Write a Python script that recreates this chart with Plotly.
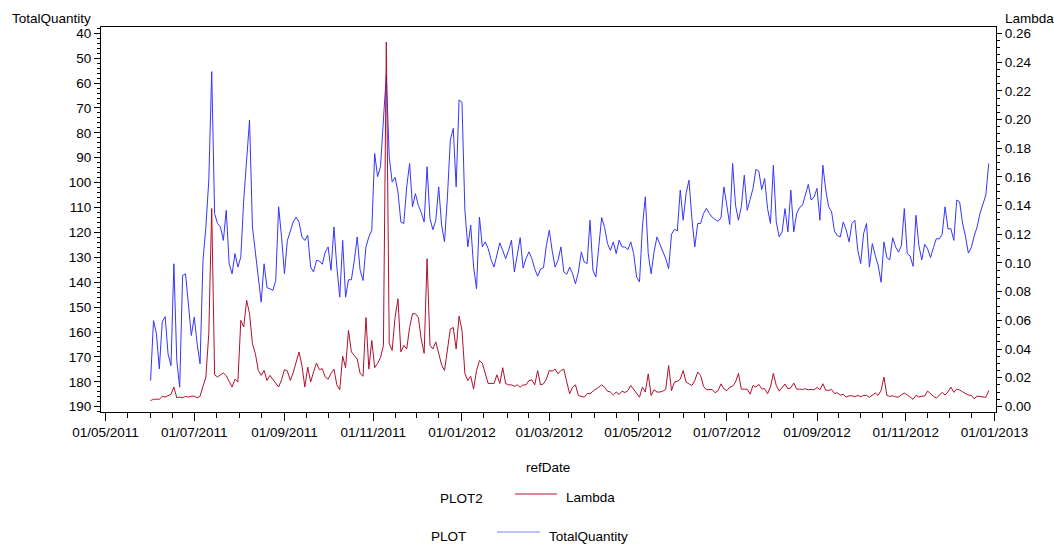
import pandas as pd
import plotly.graph_objects as go

# Daily-sampled series (every second day from 1 June 2011)
total_quantity = [
    179.5, 155.4, 160.7, 174.8, 156.0, 153.8, 168.8, 173.5, 132.6, 171.5,
    182.2, 137.3, 136.6, 148.7, 161.4, 154.0, 164.8, 172.8, 131.2, 117.8,
    99.0, 55.4, 112.4, 116.4, 117.8, 123.2, 111.1, 132.6, 136.6, 128.5,
    133.9, 129.9, 107.0, 90.9, 74.8, 117.8, 128.5, 138.6, 148.0, 132.6,
    142.2, 142.6, 143.3, 139.3, 109.7, 121.8, 136.6, 123.2, 119.1, 115.8,
    113.8, 115.8, 121.8, 123.2, 121.1, 133.9, 135.9, 131.2, 131.5, 132.8,
    127.9, 125.8, 135.2, 117.8, 133.9, 146.0, 123.2, 146.0, 139.0, 139.0,
    131.2, 121.8, 135.2, 139.3, 125.8, 121.8, 119.1, 88.3, 97.6, 93.6,
    74.8, 56.7, 89.6, 99.7, 97.9, 103.7, 115.8, 116.4, 101.7, 92.3,
    109.7, 104.4, 109.1, 112.0, 115.8, 93.6, 114.4, 118.9, 115.1, 101.7,
    117.1, 123.8, 105.7, 82.9, 78.2, 101.7, 66.8, 67.7, 111.1, 125.8,
    117.1, 133.9, 142.6, 113.8, 125.8, 123.8, 126.5, 130.9, 133.9, 129.2,
    124.2, 127.2, 130.5, 127.2, 123.1, 135.9, 128.5, 122.1, 134.3, 130.5,
    127.8, 130.5, 134.6, 137.6, 134.7, 134.2, 125.2, 119.1, 127.4, 133.9,
    131.2, 125.8, 135.9, 136.8, 133.9, 136.6, 140.6, 135.9, 127.8, 131.9,
    132.5, 115.1, 135.2, 137.9, 125.8, 114.0, 118.0, 124.5, 127.2, 123.8,
    128.5, 123.1, 125.8, 125.8, 126.9, 123.8, 128.5, 137.9, 139.9, 117.8,
    105.7, 128.5, 136.6, 127.8, 121.8, 124.8, 127.2, 130.5, 134.6, 120.7,
    118.7, 119.4, 103.0, 115.1, 104.4, 99.0, 114.4, 125.8, 116.4, 116.4,
    112.4, 110.3, 112.4, 113.9, 114.8, 115.5, 114.2, 101.7, 109.1, 116.8,
    92.3, 109.1, 115.1, 109.5, 97.0, 111.1, 106.8, 102.3, 94.7, 95.4,
    102.8, 98.3, 110.4, 116.4, 93.0, 115.8, 121.8, 119.8, 110.4, 119.8,
    103.0, 119.8, 112.4, 110.0, 109.1, 105.0, 100.7, 107.0, 105.7, 102.3,
    115.1, 93.0, 103.0, 109.7, 111.7, 119.5, 121.3, 121.8, 115.8, 118.9,
    123.8, 116.4, 115.1, 127.2, 132.5, 120.5, 116.4, 133.9, 124.5, 129.2,
    133.2, 140.0, 123.8, 130.1, 131.0, 122.1, 125.8, 127.9, 125.3, 110.4,
    128.5, 129.5, 133.6, 113.1, 125.2, 131.0, 124.8, 126.6, 130.1, 126.1,
    122.5, 122.6, 120.7, 109.7, 118.6, 118.5, 123.2, 107.0, 107.7, 116.2,
    121.5, 128.3, 126.1, 121.5, 117.8, 112.4, 108.5, 105.0, 92.3,
]

lambda_vals = [
    0.004, 0.005, 0.005, 0.005, 0.007, 0.0065, 0.0075, 0.0084, 0.0135, 0.006,
    0.0065, 0.006, 0.007, 0.0065, 0.007, 0.0072, 0.006, 0.007, 0.014, 0.0205,
    0.051, 0.138, 0.022, 0.0205, 0.022, 0.0233, 0.0214, 0.017, 0.0135, 0.019,
    0.017, 0.060, 0.0554, 0.074, 0.0647, 0.0437, 0.0368, 0.0251, 0.0216, 0.0251,
    0.0181, 0.0216, 0.019, 0.0165, 0.0135, 0.0186, 0.0256, 0.0247, 0.0181, 0.0235,
    0.0302, 0.0379, 0.0286, 0.0135, 0.0274, 0.017, 0.024, 0.0302, 0.0256, 0.0263,
    0.0205, 0.019, 0.023, 0.026, 0.015, 0.0116, 0.035, 0.027, 0.053, 0.038,
    0.0355, 0.033, 0.023, 0.021, 0.062, 0.026, 0.046, 0.027, 0.030, 0.034,
    0.0425, 0.254, 0.044, 0.039, 0.062, 0.075, 0.038, 0.0425, 0.040, 0.055,
    0.0646, 0.0646, 0.062, 0.047, 0.037, 0.103, 0.0425, 0.040, 0.045, 0.037,
    0.029, 0.025, 0.039, 0.054, 0.055, 0.040, 0.063, 0.053, 0.023, 0.018,
    0.021, 0.012, 0.025, 0.032, 0.030, 0.023, 0.016, 0.016, 0.016, 0.022,
    0.016, 0.027, 0.016, 0.015, 0.015, 0.014, 0.015, 0.0134, 0.015, 0.015,
    0.018, 0.0185, 0.015, 0.025, 0.015, 0.0157, 0.019, 0.025, 0.0246, 0.026,
    0.0227, 0.025, 0.026, 0.017, 0.0088, 0.0134, 0.015, 0.0076, 0.007, 0.0064,
    0.009, 0.0088, 0.0106, 0.0118, 0.0134, 0.015, 0.0134, 0.0106, 0.010, 0.008,
    0.010, 0.0083, 0.0106, 0.0097, 0.011, 0.0146, 0.0116, 0.009, 0.0064, 0.0134,
    0.010, 0.0227, 0.0076, 0.0116, 0.010, 0.010, 0.0106, 0.0118, 0.0285, 0.011,
    0.017, 0.0175, 0.019, 0.025, 0.017, 0.0157, 0.0146, 0.018, 0.024, 0.0216,
    0.014, 0.0116, 0.0116, 0.0118, 0.0095, 0.011, 0.0157, 0.0123, 0.011, 0.0134,
    0.014, 0.017, 0.023, 0.012, 0.012, 0.012, 0.0085, 0.0146, 0.0135, 0.0154,
    0.0123, 0.0123, 0.0088, 0.0135, 0.023, 0.0146, 0.0107, 0.013, 0.0156, 0.0123,
    0.013, 0.0163, 0.012, 0.012, 0.0118, 0.0123, 0.0116, 0.0118, 0.0116, 0.0133,
    0.0116, 0.0158, 0.0114, 0.0111, 0.0118, 0.009, 0.0095, 0.0079, 0.0084, 0.0065,
    0.0074, 0.0074, 0.0067, 0.0077, 0.0067, 0.0077, 0.0077, 0.0063, 0.0077, 0.0093,
    0.0077, 0.0111, 0.0205, 0.0077, 0.007, 0.0074, 0.0067, 0.0065, 0.0081, 0.0093,
    0.0081, 0.0067, 0.0049, 0.0077, 0.0065, 0.0072, 0.0072, 0.0107, 0.0088, 0.007,
    0.0058, 0.0077, 0.0098, 0.0079, 0.0102, 0.0135, 0.0098, 0.012, 0.0114, 0.0102,
    0.009, 0.0079, 0.0077, 0.0053, 0.0072, 0.007, 0.007, 0.0063, 0.0111,
]

ref_dates = pd.date_range("2011-06-01", periods=len(total_quantity), freq="2D")

x_ticks = pd.date_range("2011-05-01", "2013-01-01", freq="2MS")
x_minor = sorted(list(pd.date_range("2011-05-01", "2013-01-01", freq="MS")) +
                 [d + pd.Timedelta(days=15) for d in pd.date_range("2011-05-01", "2012-12-01", freq="MS")])

FONT = "Liberation Sans, Arial, sans-serif"
BLUE = "#3535ff"
BLUE_KEY = "#8080ff"
RED = "#b0102e"

# plot-area edges in pixels, used to place the free-standing labels
L_PX, R_PX, T_PX, B_PX = 101, 996, 27, 412
W, H = 1054, 545


def px_x(px):
    return (px - L_PX) / (R_PX - L_PX)


def px_y(py):
    return (B_PX - py) / (B_PX - T_PX)


fig = go.Figure()
fig.add_trace(go.Scatter(x=ref_dates, y=lambda_vals, mode="lines", name="Lambda",
                         line=dict(color=RED, width=1), yaxis="y2"))
fig.add_trace(go.Scatter(x=ref_dates, y=total_quantity, mode="lines", name="TotalQuantity",
                         line=dict(color=BLUE, width=1), yaxis="y"))

axis_font = dict(family=FONT, size=13.5, color="black")

fig.update_layout(
    width=W, height=H, autosize=False,
    margin=dict(l=L_PX, r=W - R_PX, t=T_PX, b=H - B_PX, pad=0),
    paper_bgcolor="white", plot_bgcolor="white",
    showlegend=False,
    font=axis_font,
    xaxis=dict(
        type="date",
        range=["2011-04-27 22:00", "2013-01-02 00:00"],
        tickmode="array", tickvals=list(x_ticks), tickformat="%d/%m/%Y",
        ticks="outside", ticklen=8, tickwidth=1, tickcolor="black",
        showline=True, linecolor="black", linewidth=1, mirror=True,
        showgrid=False, zeroline=False, tickfont=axis_font,
        minor=dict(tickmode="array", tickvals=list(x_minor), ticks="outside",
                   ticklen=5, tickwidth=1, tickcolor="black", showgrid=False),
    ),
    yaxis=dict(
        range=[192.13, 37.47],
        tickmode="linear", tick0=40, dtick=10,
        ticks="outside", ticklen=6, tickwidth=1, tickcolor="black",
        showline=True, linecolor="black", linewidth=1,
        showgrid=False, zeroline=False, tickfont=axis_font,
        minor=dict(dtick=2, ticks="outside", ticklen=3, tickwidth=1,
                   tickcolor="black", showgrid=False),
    ),
    yaxis2=dict(
        overlaying="y", side="right", anchor="x",
        range=[-0.0039, 0.2645],
        tickmode="linear", tick0=0, dtick=0.02, tickformat=".2f",
        ticks="outside", ticklen=5, tickwidth=1, tickcolor="black",
        showline=True, linecolor="black", linewidth=1,
        showgrid=False, zeroline=False, tickfont=axis_font,
        minor=dict(dtick=0.005, ticks="outside", ticklen=3, tickwidth=1,
                   tickcolor="black", showgrid=False),
    ),
)

annotations = [
    dict(text="TotalQuantity", x=px_x(93), y=px_y(18), xanchor="right", yanchor="middle"),
    dict(text="Lambda", x=px_x(1003), y=px_y(18), xanchor="left", yanchor="middle"),
    dict(text="refDate", x=px_x(548), y=px_y(467), xanchor="center", yanchor="middle"),
    dict(text="PLOT2", x=px_x(461), y=px_y(498), xanchor="center", yanchor="middle"),
    dict(text="Lambda", x=px_x(564), y=px_y(497), xanchor="left", yanchor="middle"),
    dict(text="PLOT", x=px_x(448), y=px_y(536), xanchor="center", yanchor="middle"),
    dict(text="TotalQuantity", x=px_x(547), y=px_y(536), xanchor="left", yanchor="middle"),
]
for a in annotations:
    fig.add_annotation(xref="paper", yref="paper", showarrow=False,
                       font=axis_font, **a)

# legend sample lines
fig.add_shape(type="line", xref="paper", yref="paper",
              x0=px_x(515), x1=px_x(557), y0=px_y(494), y1=px_y(494),
              line=dict(color=RED, width=1))
fig.add_shape(type="line", xref="paper", yref="paper",
              x0=px_x(497), x1=px_x(540), y0=px_y(532), y1=px_y(532),
              line=dict(color=BLUE_KEY, width=1))

fig.write_html("out.html")
